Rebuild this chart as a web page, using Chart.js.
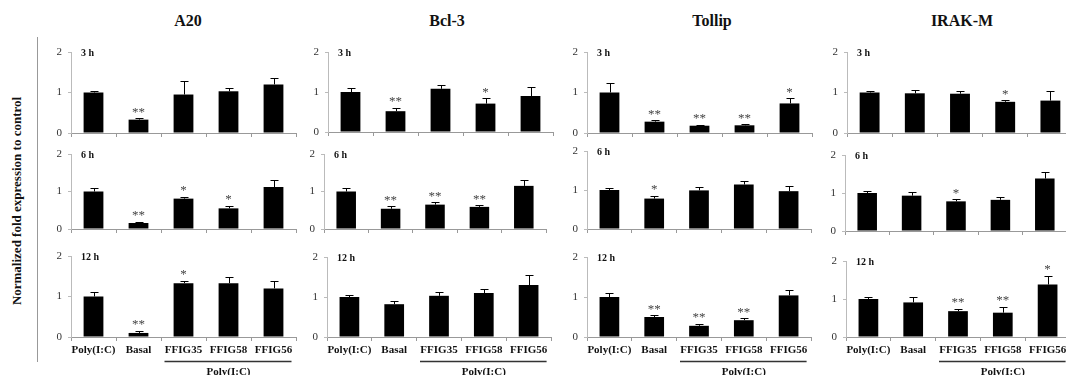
<!DOCTYPE html>
<html>
<head>
<meta charset="utf-8">
<script src="https://cdn.jsdelivr.net/npm/chart.js@4"></script>
<style>
  html, body { margin: 0; padding: 0; background: #fff; width: 1066px; height: 375px; overflow: hidden; }
  #fig { position: relative; width: 1066px; height: 375px; overflow: hidden; font-family: "Liberation Serif", "Times New Roman", serif; color: #111; }
  #fig canvas { position: absolute; }
  .gene { position: absolute; top: 12px; font-weight: bold; font-size: 16px; line-height: 18px; transform: translateX(-50%); white-space: nowrap; }
  .ytitle { position: absolute; left: 17px; top: 201px; transform: translate(-50%, -50%) rotate(-90deg); font-weight: bold; font-size: 13px; white-space: nowrap; }
  .frame { position: absolute; left: 37px; top: 37px; width: 1px; height: 325px; background: #999; }
</style>
</head>
<body>
<div id="fig">
  <div class="frame"></div>
  <div class="ytitle" id="ytitle"></div>
</div>
<script>
var genes = ['A20', 'Bcl-3', 'Tollip', 'IRAK-M'];
var times = ['3 h', '6 h', '12 h'];
var groups = ['Poly(I:C)', 'Basal', 'FFIG35', 'FFIG58', 'FFIG56'];
var subgroupLabel = 'Poly(I:C)';
var yTitle = 'Normalized fold expression to control';

// mean fold expression, one row per time point (3 h, 6 h, 12 h)
var a20Mean = [[1.00, 0.33, 0.95, 1.03, 1.20], [1.00, 0.16, 0.81, 0.55, 1.12], [1.00, 0.10, 1.33, 1.33, 1.20]];
var a20Err  = [[0.04, 0.04, 0.33, 0.07, 0.17], [0.09, 0.03, 0.05, 0.07, 0.20], [0.10, 0.05, 0.06, 0.15, 0.18]];
var a20Sig  = [['', '**', '', '', ''], ['', '**', '*', '*', ''], ['', '**', '*', '', '']];

var bcl3Mean = [[1.00, 0.52, 1.08, 0.71, 0.90], [1.00, 0.54, 0.65, 0.59, 1.15], [1.00, 0.82, 1.03, 1.10, 1.30]];
var bcl3Err  = [[0.10, 0.09, 0.10, 0.13, 0.23], [0.10, 0.07, 0.07, 0.04, 0.16], [0.05, 0.09, 0.10, 0.10, 0.24]];
var bcl3Sig  = [['', '**', '', '*', ''], ['', '**', '**', '**', ''], ['', '', '', '', '']];

var tollipMean = [[1.00, 0.28, 0.18, 0.19, 0.73], [1.00, 0.78, 0.99, 1.14, 0.97], [1.00, 0.50, 0.28, 0.42, 1.04]];
var tollipErr  = [[0.24, 0.03, 0.02, 0.02, 0.13], [0.04, 0.07, 0.08, 0.09, 0.13], [0.09, 0.04, 0.05, 0.05, 0.14]];
var tollipSig  = [['', '**', '**', '**', '*'], ['', '*', '', '', ''], ['', '**', '**', '**', '']];

var irakmMean = [[1.00, 0.98, 0.97, 0.77, 0.80], [1.00, 0.93, 0.78, 0.82, 1.38], [1.00, 0.91, 0.68, 0.64, 1.38]];
var irakmErr  = [[0.04, 0.08, 0.07, 0.04, 0.23], [0.04, 0.10, 0.05, 0.07, 0.18], [0.04, 0.15, 0.07, 0.16, 0.23]];
var irakmSig  = [['', '', '', '*', ''], ['', '', '*', '', ''], ['', '', '**', '**', '*']];

var meanByGene = [a20Mean, bcl3Mean, tollipMean, irakmMean];
var errByGene = [a20Err, bcl3Err, tollipErr, irakmErr];
var sigByGene = [a20Sig, bcl3Sig, tollipSig, irakmSig];

// layout: [axis x, y of top (2), y of zero, plot width] per gene / time
var SERIF = '"Liberation Serif", "Times New Roman", serif';
var titleX = [188, 447, 712, 962];
var panelBox = [
  [[71, 52, 133, 225], [71, 154, 229, 225], [71, 256, 337, 225]],
  [[328, 52, 132, 225], [324, 154, 229, 222], [327, 257, 337, 224]],
  [[587, 52, 133, 225], [587, 151, 229, 224], [587, 257, 337, 224]],
  [[847, 52, 133, 226], [845, 155, 231, 222], [846, 261, 337, 224]]
];

var fig = document.getElementById('fig');
document.getElementById('ytitle').textContent = yTitle;

genes.forEach(function (g, gi) {
  var d = document.createElement('div');
  d.className = 'gene';
  d.style.left = titleX[gi] + 'px';
  d.textContent = g;
  fig.appendChild(d);
});

function extrasPlugin(gi, ti, last) {
  return {
    id: 'extras',
    afterDatasetsDraw: function (chart) {
      var ctx = chart.ctx;
      var ys = chart.scales.y, xs = chart.scales.x, area = chart.chartArea;
      var mean = meanByGene[gi][ti], err = errByGene[gi][ti], sig = sigByGene[gi][ti];
      ctx.save();
      chart.getDatasetMeta(0).data.forEach(function (bar, i) {
        var top = ys.getPixelForValue(mean[i] + err[i]);
        var x = Math.round(bar.x) + 0.5;
        var ty = Math.round(top) + 0.5;
        ctx.strokeStyle = '#000';
        ctx.lineWidth = 1;
        ctx.beginPath();
        ctx.moveTo(x, bar.y);
        ctx.lineTo(x, ty);
        ctx.moveTo(x - 4, ty);
        ctx.lineTo(x + 4, ty);
        ctx.stroke();
        if (sig[i]) {
          ctx.fillStyle = '#444';
          ctx.font = '13px ' + SERIF;
          ctx.textAlign = 'center';
          ctx.textBaseline = 'alphabetic';
          ctx.fillText(sig[i], bar.x, top - 2.5);
        }
      });
      ctx.fillStyle = '#111';
      ctx.font = 'bold 10px ' + SERIF;
      ctx.textAlign = 'left';
      ctx.textBaseline = 'middle';
      ctx.fillText(times[ti], area.left + 10, area.top + 1);
      if (last) {
        var x0 = xs.getPixelForValue(2) - 19;
        var x1 = xs.getPixelForValue(4) + 18;
        var ly = area.bottom + 24.5;
        ctx.strokeStyle = '#333';
        ctx.lineWidth = 1.5;
        ctx.beginPath();
        ctx.moveTo(x0, ly);
        ctx.lineTo(x1, ly);
        ctx.stroke();
        ctx.fillStyle = '#111';
        ctx.font = 'bold 11px ' + SERIF;
        ctx.textAlign = 'center';
        ctx.textBaseline = 'middle';
        ctx.fillText(subgroupLabel, xs.getPixelForValue(3), area.bottom + 35);
      }
      ctx.restore();
    }
  };
}

function makePanel(gi, ti) {
  var box = panelBox[gi][ti];
  var last = ti === times.length - 1;
  var xH = last ? 40 : 16;
  var padTop = 16, padRight = 6, yW = 20;
  var c = document.createElement('canvas');
  c.width = yW + box[3] + padRight;
  c.height = padTop + (box[2] - box[1]) + xH;
  c.style.left = (box[0] - yW) + 'px';
  c.style.top = (box[1] - padTop) + 'px';
  fig.appendChild(c);
  new Chart(c, {
    type: 'bar',
    data: {
      labels: groups,
      datasets: [{ data: meanByGene[gi][ti], backgroundColor: '#000', borderWidth: 0, barPercentage: 0.44, categoryPercentage: 1 }]
    },
    options: {
      responsive: false,
      animation: false,
      devicePixelRatio: 1,
      layout: { padding: { top: padTop, right: padRight, left: 0, bottom: 0 } },
      plugins: { legend: { display: false }, tooltip: { enabled: false } },
      scales: {
        x: {
          grid: { offset: true, drawOnChartArea: false, tickLength: 4, color: '#999' },
          border: { color: '#999' },
          ticks: { display: last, padding: 3, color: '#111', maxRotation: 0, autoSkip: false, font: { family: SERIF, size: 11, weight: 'bold' } },
          afterFit: function (s) { s.height = xH; }
        },
        y: {
          min: 0,
          max: 2,
          ticks: { stepSize: 1, padding: 6, color: '#333', font: { family: SERIF, size: 11, lineHeight: 1 } },
          grid: { drawOnChartArea: false, tickLength: 3, color: '#bbb' },
          border: { color: '#bbb' },
          afterFit: function (s) { s.width = yW; }
        }
      }
    },
    plugins: [extrasPlugin(gi, ti, last)]
  });
}

genes.forEach(function (g, gi) {
  times.forEach(function (t, ti) { makePanel(gi, ti); });
});
</script>
</body>
</html>
